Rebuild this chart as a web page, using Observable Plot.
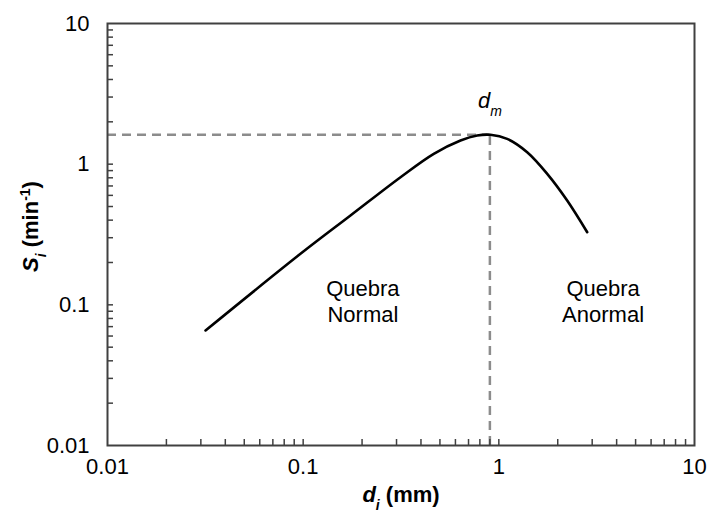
<!DOCTYPE html>
<html>
<head>
<meta charset="utf-8">
<script src="https://cdn.jsdelivr.net/npm/d3@7"></script>
<script src="https://cdn.jsdelivr.net/npm/@observablehq/plot@0.6"></script>
<style>
  html, body { margin: 0; padding: 0; background: #fff; }
  #chart svg { display: block; }
</style>
</head>
<body>
<div id="chart"></div>
<script>
// ---- data ----
const xTicks = [0.01, 0.1, 1, 10];
const xTickLabels = ["0.01", "0.1", "1", "10"];
const yTicks = [0.01, 0.1, 1, 10];
const yTickLabels = ["0.01", "0.1", "1", "10"];
const minorTicks = [0.02,0.03,0.04,0.05,0.06,0.07,0.08,0.09,0.1,0.2,0.3,0.4,0.5,0.6,0.7,0.8,0.9,1,2,3,4,5,6,7,8,9];

const di = [0.0317, 0.0969, 0.1745, 0.3145, 0.465, 0.637, 0.775, 0.906, 1.103, 1.396, 1.767, 2.235, 2.83];
const Si = [0.0657, 0.2306, 0.4316, 0.808, 1.185, 1.473, 1.599, 1.618, 1.514, 1.216, 0.854, 0.552, 0.3283];

const dm = 0.9;
const Sm = 1.62;

const labels = [
  {x: 0.202, y: 0.107, text: "Quebra\nNormal"},
  {x: 3.41, y: 0.107, text: "Quebra\nAnormal"}
];

const curve = di.map((d, i) => ({d, s: Si[i]}));
const xLab = new Map(xTicks.map((t, i) => [t, xTickLabels[i]]));
const yLab = new Map(yTicks.map((t, i) => [t, yTickLabels[i]]));
const font = "'Liberation Sans', Arial, sans-serif";
const axisColor = "#404040";
const fs = 22;

const chart = Plot.plot({
  width: 708,
  height: 512,
  marginLeft: 107,
  marginRight: 14,
  marginTop: 23,
  marginBottom: 67,
  style: {fontFamily: font, fontSize: fs + "px", color: "#000", background: "#fff"},
  x: {type: "log", domain: [0.01, 10]},
  y: {type: "log", domain: [0.01, 10]},
  marks: [
    // dashed guide lines
    Plot.ruleY([Sm], {x1: 0.01, x2: dm, stroke: "#8c8c8c", strokeWidth: 2.5, strokeDasharray: "9,6"}),
    Plot.ruleX([dm], {y1: 0.01, y2: Sm, stroke: "#8c8c8c", strokeWidth: 2.5, strokeDasharray: "9,6"}),
    // curve
    Plot.line(curve, {x: "d", y: "s", curve: "catmull-rom", stroke: "#000", strokeWidth: 2.6}),
    // inner minor ticks
    Plot.axisX(minorTicks, {anchor: "bottom", tickSize: -6, tickFormat: () => "", stroke: axisColor, strokeWidth: 1.5, label: null}),
    Plot.axisY(minorTicks, {anchor: "left", tickSize: -6, tickFormat: () => "", stroke: axisColor, strokeWidth: 1.5, label: null}),
    // tick labels
    Plot.axisX(xTicks, {anchor: "bottom", tickSize: 0, tickPadding: 13, tickFormat: d => xLab.get(d), fontSize: fs, label: null}),
    Plot.axisY(yTicks, {anchor: "left", tickSize: 0, tickPadding: 18, tickFormat: d => yLab.get(d), fontSize: fs, label: null}),
    // frame
    Plot.frame({stroke: axisColor, strokeWidth: 2}),
    // annotations
    Plot.text(labels, {x: "x", y: "y", text: "text", fontSize: fs, lineHeight: 1.18, fill: "#000"}),
    Plot.text([{x: dm, y: 2.8}], {x: "x", y: "y", text: () => "dm", fontSize: fs, fill: "#000"}),
    // axis titles
    Plot.text([0], {frameAnchor: "bottom", dy: 56, textAnchor: "middle", text: () => "di (mm)", fontSize: fs, fontWeight: "bold", fill: "#000"}),
    Plot.text([0], {frameAnchor: "left", dx: -77, dy: -8, textAnchor: "middle", lineAnchor: "middle", rotate: -90, text: () => "Si (min-1)", fontSize: fs, fontWeight: "bold", fill: "#000"})
  ]
});

document.getElementById("chart").appendChild(chart);

// rich text (subscripts / superscripts)
function rich(content, parts) {
  d3.select(chart).selectAll("text").filter(function() { return this.textContent === content; }).each(function() {
    const t = d3.select(this);
    t.text(null);
    for (const p of parts) {
      const s = t.append("tspan").text(p.t);
      if (p.italic) s.attr("font-style", "italic");
      if (p.sub) s.attr("baseline-shift", "sub").attr("font-size", "14px");
      if (p.sup) s.attr("baseline-shift", "super").attr("font-size", "14px");
    }
  });
}
rich("dm", [{t: "d", italic: true}, {t: "m", italic: true, sub: true}]);
rich("di (mm)", [{t: "d", italic: true}, {t: "i", italic: true, sub: true}, {t: " (mm)"}]);
rich("Si (min-1)", [{t: "S", italic: true}, {t: "i", italic: true, sub: true}, {t: " (min"}, {t: "-1", sup: true}, {t: ")"}]);
</script>
</body>
</html>
